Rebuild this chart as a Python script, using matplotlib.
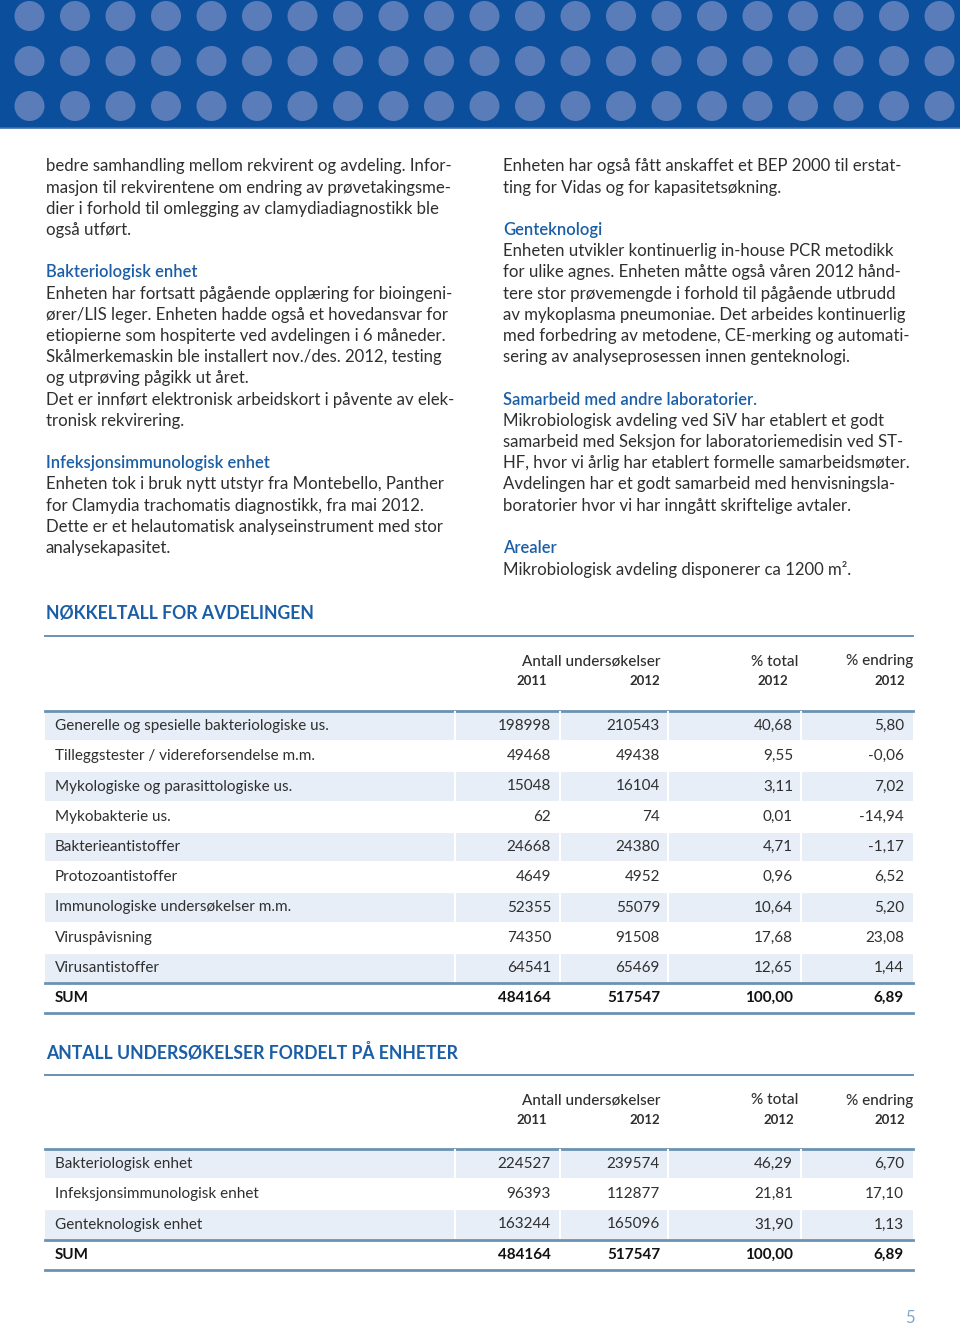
import matplotlib
matplotlib.use("Agg")
import matplotlib.pyplot as plt
from matplotlib.patches import Rectangle, Circle

plt.rcParams['font.family'] = ['Lato', 'DejaVu Sans']

# --- data -------------------------------------------------------------
left_lines = [
    "bedre samhandling mellom rekvirent og avdeling. Infor-",
    "masjon til rekvirentene om endring av prøvetakingsme-",
    "dier i forhold til omlegging av clamydiadiagnostikk ble",
    "også utført.",
    "",
    "#Bakteriologisk enhet",
    "Enheten har fortsatt pågående opplæring for bioingeni-",
    "ører/LIS leger. Enheten hadde også et hovedansvar for",
    "etiopierne som hospiterte ved avdelingen i 6 måneder.",
    "Skålmerkemaskin ble installert nov./des. 2012, testing",
    "og utprøving pågikk ut året.",
    "Det er innført elektronisk arbeidskort i påvente av elek-",
    "tronisk rekvirering.",
    "",
    "#Infeksjonsimmunologisk enhet",
    "Enheten tok i bruk nytt utstyr fra Montebello, Panther",
    "for Clamydia trachomatis diagnostikk, fra mai 2012.",
    "Dette er et helautomatisk analyseinstrument med stor",
    "analysekapasitet.",
]
right_lines = [
    "Enheten har også fått anskaffet et BEP 2000 til erstat-",
    "ting for Vidas og for kapasitetsøkning.",
    "",
    "#Genteknologi",
    "Enheten utvikler kontinuerlig in-house PCR metodikk",
    "for ulike agnes. Enheten måtte også våren 2012 hånd-",
    "tere stor prøvemengde i forhold til pågående utbrudd",
    "av mykoplasma pneumoniae. Det arbeides kontinuerlig",
    "med forbedring av metodene, CE-merking og automati-",
    "sering av analyseprosessen innen genteknologi.",
    "",
    "#Samarbeid med andre laboratorier.",
    "Mikrobiologisk avdeling ved SiV har etablert et godt",
    "samarbeid med Seksjon for laboratoriemedisin ved ST-",
    "HF, hvor vi årlig har etablert formelle samarbeidsmøter.",
    "Avdelingen har et godt samarbeid med henvisningsla-",
    "boratorier hvor vi har inngått skriftelige avtaler.",
    "",
    "#Arealer",
    "Mikrobiologisk avdeling disponerer ca 1200 m².",
]

t1_title = "NØKKELTALL FOR AVDELINGEN"
t1_labels = ["Generelle og spesielle bakteriologiske us.",
             "Tilleggstester / videreforsendelse m.m.",
             "Mykologiske og parasittologiske us.",
             "Mykobakterie us.",
             "Bakterieantistoffer",
             "Protozoantistoffer",
             "Immunologiske undersøkelser m.m.",
             "Viruspåvisning",
             "Virusantistoffer"]
t1_2011 = [198998, 49468, 15048, 62, 24668, 4649, 52355, 74350, 64541]
t1_2012 = [210543, 49438, 16104, 74, 24380, 4952, 55079, 91508, 65469]
t1_total = [40.68, 9.55, 3.11, 0.01, 4.71, 0.96, 10.64, 17.68, 12.65]
t1_change = [5.80, -0.06, 7.02, -14.94, -1.17, 6.52, 5.20, 23.08, 1.44]
t1_sum = [484164, 517547, 100.00, 6.89]

t2_title = "ANTALL UNDERSØKELSER FORDELT PÅ ENHETER"
t2_labels = ["Bakteriologisk enhet", "Infeksjonsimmunologisk enhet",
             "Genteknologisk enhet"]
t2_2011 = [224527, 96393, 163244]
t2_2012 = [239574, 112877, 165096]
t2_total = [46.29, 21.81, 31.90]
t2_change = [6.70, 17.10, 1.13]
t2_sum = [484164, 517547, 100.00, 6.89]

# --- style ------------------------------------------------------------
BAND = '#0b4f9c'
DOT = '#5a7cb9'
HEAD = '#1b5ea6'
TXT = '#2f2f2f'
SHADE = '#e7eef8'
RULE = '#6a92b2'

fig = plt.figure(figsize=(9.6, 13.26), dpi=100)
ax = fig.add_axes([0, 0, 1, 1])
ax.set_xlim(0, 960)
ax.set_ylim(1326, 0)
ax.axis('off')

# header band with dots
ax.add_patch(Rectangle((0, 0), 960, 128, color=BAND, lw=0))
ax.plot([0, 960], [128, 128], color='#3f6fae', lw=1.2)
for r in range(3):
    for k in range(22):
        ax.add_patch(Circle((-16 + 45.5 * k, 16 + 45 * r), 15, color=DOT, lw=0))

# body text
fs = 12.1
step = 21.2


def column(lines, x0, y0):
    for i, ln in enumerate(lines):
        if not ln:
            continue
        y = y0 + i * step
        if ln.startswith('#'):
            ax.text(x0, y, ln[1:], fontsize=11.9, color=HEAD, fontweight='semibold',
                    va='center_baseline', ha='left')
        else:
            ax.text(x0, y, ln, fontsize=fs, color=TXT, va='center_baseline', ha='left')


column(left_lines, 46, 165)
column(right_lines, 503, 165)


def fmt(v):
    return f"{v:.2f}".replace('.', ',')


col_right = [551, 660, 793, 904]
seps = [455, 560, 668, 801]
X0, X1 = 45, 913


def table(title, y_title, labels, a, b, tot, chg, sums, y_row0, year3_x):
    ax.text(46, y_title, title, fontsize=12.7, color=HEAD, fontweight='bold',
            va='center_baseline', ha='left')
    ax.plot([X0, X1], [y_title + 24, y_title + 24], color=RULE, lw=1.4)
    yh = y_title + 48
    ax.text(660, yh, "Antall undersøkelser", fontsize=11, color=TXT,
            fontweight='medium', ha='right', va='center_baseline')
    ax.text(798, yh, "% total", fontsize=11, color=TXT, fontweight='medium',
            ha='right', va='center_baseline')
    ax.text(913, yh, "% endring", fontsize=11, color=TXT, fontweight='medium',
            ha='right', va='center_baseline')
    for xr, yr in zip([547, 660, year3_x, 905], ["2011", "2012", "2012", "2012"]):
        ax.text(xr, yh + 20, yr, fontsize=9.5, color=TXT, fontweight='bold',
                ha='right', va='center_baseline')

    rh = 30.25
    top = y_row0 - rh / 2
    ax.plot([X0, X1], [top, top], color=RULE, lw=2)
    rows = list(zip(labels, a, b, tot, chg))
    for i, (lab, v1, v2, t, c) in enumerate(rows):
        yc = y_row0 + i * rh
        if i % 2 == 0:
            ax.add_patch(Rectangle((X0, yc - rh / 2 + 1), X1 - X0, rh - 2,
                                   color=SHADE, lw=0))
            for s in seps:
                ax.plot([s, s], [yc - rh / 2 + 1, yc + rh / 2 - 1], color='white', lw=1.5)
        ax.text(55, yc, lab, fontsize=11, color=TXT, va='center', ha='left')
        for xr, v in zip(col_right, [str(v1), str(v2), fmt(t), fmt(c)]):
            ax.text(xr, yc, v, fontsize=11, color=TXT, va='center', ha='right')
    ys = y_row0 + len(rows) * rh
    ax.plot([X0, X1], [ys - rh / 2, ys - rh / 2], color=RULE, lw=2)
    ax.plot([X0, X1], [ys + rh / 2, ys + rh / 2], color=RULE, lw=2)
    ax.text(55, ys, "SUM", fontsize=11, color='#111111', fontweight='bold',
            va='center', ha='left')
    for xr, v in zip(col_right, [str(sums[0]), str(sums[1]), fmt(sums[2]), fmt(sums[3])]):
        ax.text(xr, ys, v, fontsize=11, color='#111111', fontweight='bold',
                va='center', ha='right')


table(t1_title, 612, t1_labels, t1_2011, t1_2012, t1_total, t1_change, t1_sum, 726, 788)
table(t2_title, 1051, t2_labels, t2_2011, t2_2012, t2_total, t2_change, t2_sum, 1164, 794)

ax.text(910, 1318, "5", fontsize=12, color='#7fa6d0', ha='center', va='center')

fig.savefig("out.png", dpi=100)
